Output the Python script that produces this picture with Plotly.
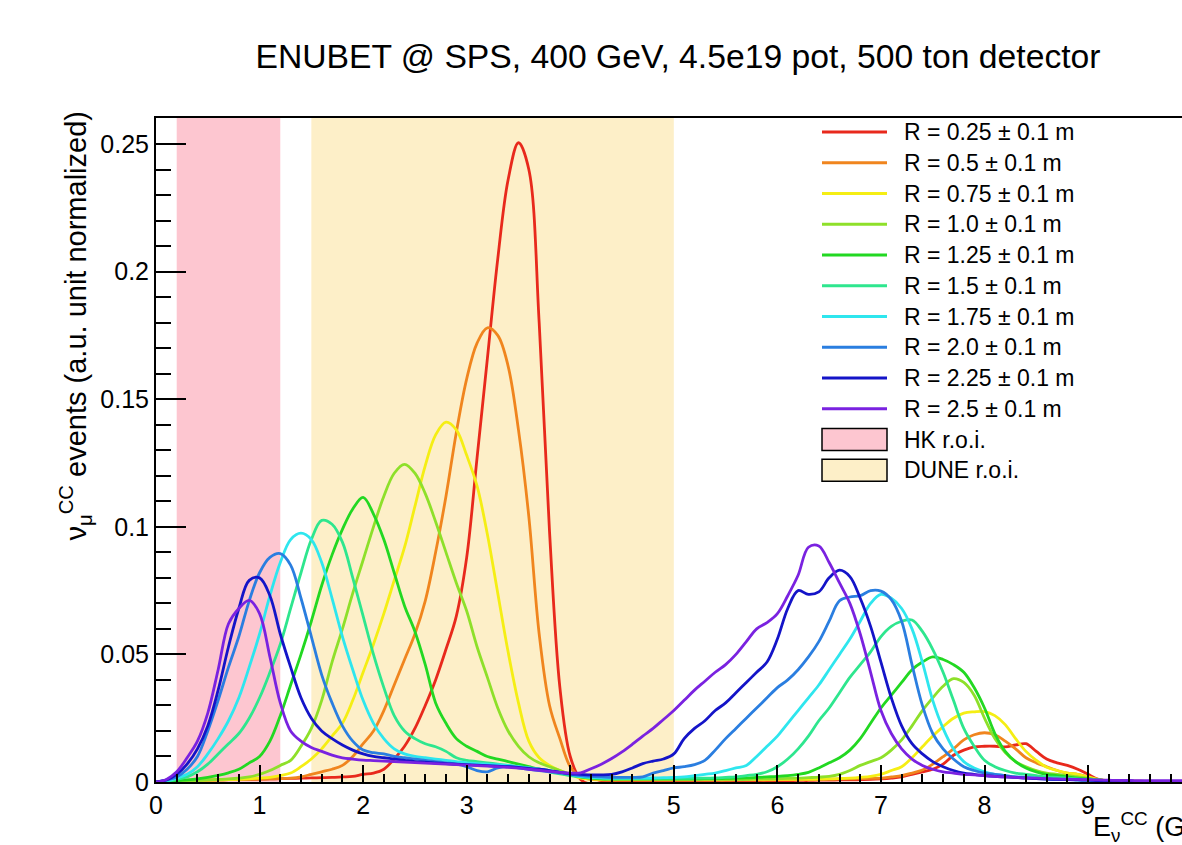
import plotly.graph_objects as go

# ---------------- data ----------------
energy_gev = [
    0.0, 0.1, 0.2, 0.3, 0.4, 0.5, 0.6, 0.7, 0.8, 0.9,
    1.0, 1.1, 1.2, 1.3, 1.4, 1.5, 1.6, 1.7, 1.8, 1.9,
    2.0, 2.1, 2.2, 2.3, 2.4, 2.5, 2.6, 2.7, 2.8, 2.9,
    3.0, 3.1, 3.2, 3.3, 3.4, 3.5, 3.6, 3.7, 3.8, 3.9,
    4.0, 4.1, 4.2, 4.3, 4.4, 4.5, 4.6, 4.7, 4.8, 4.9,
    5.0, 5.1, 5.2, 5.3, 5.4, 5.5, 5.6, 5.7, 5.8, 5.9,
    6.0, 6.1, 6.2, 6.3, 6.4, 6.5, 6.6, 6.7, 6.8, 6.9,
    7.0, 7.1, 7.2, 7.3, 7.4, 7.5, 7.6, 7.7, 7.8, 7.9,
    8.0, 8.1, 8.2, 8.3, 8.4, 8.5, 8.6, 8.7, 8.8, 8.9,
    9.0, 9.1, 9.2, 9.3, 9.4, 9.5, 9.6, 9.7, 9.8, 9.9,
    10.0,
]

r_025 = [
    0, 0.0003, 0.0004, 0.0005, 0.0006, 0.0007, 0.0008, 0.0009, 0.001, 0.001,
    0.0011, 0.0012, 0.0013, 0.0014, 0.0015, 0.0016, 0.0017, 0.0018, 0.002, 0.0022,
    0.003, 0.0035, 0.005, 0.009, 0.014, 0.021, 0.03, 0.04, 0.052, 0.065,
    0.088, 0.127, 0.166, 0.205, 0.236, 0.2505, 0.24, 0.18, 0.098, 0.037,
    0.01, 0.001, -0.0008, -0.0002, 0.0002, 0.0003, 0.0003, 0.0003, 0.0003, 0.0003,
    0.0003, 0.0003, 0.0003, 0.0003, 0.0003, 0.0003, 0.0003, 0.0004, 0.0004, 0.0005,
    0.0005, 0.0005, 0.0006, 0.0006, 0.0007, 0.0007, 0.0008, 0.0008, 0.0009, 0.001,
    0.0012, 0.0015, 0.002, 0.003, 0.004, 0.005, 0.007, 0.0105, 0.0125, 0.0138,
    0.014, 0.014, 0.0138, 0.0145, 0.015, 0.012, 0.009, 0.0075, 0.0065, 0.005,
    0.003, 0.001, 0.0004, 0.0003, 0.0003, 0.0003, 0.0002, 0.0002, 0.0002, 0.0002,
    0.0002,
]

r_050 = [
    0, 0.0003, 0.0004, 0.0005, 0.0006, 0.0007, 0.0008, 0.0009, 0.001, 0.001,
    0.0011, 0.0012, 0.0013, 0.0015, 0.002, 0.003, 0.004, 0.005, 0.0065, 0.01,
    0.015, 0.02, 0.028, 0.038, 0.048, 0.058, 0.071, 0.09, 0.112, 0.137,
    0.158, 0.172, 0.178, 0.175, 0.163, 0.138, 0.104, 0.058, 0.03, 0.017,
    0.006, 0.002, 0.001, 0.0008, 0.0007, 0.0007, 0.0007, 0.0007, 0.0007, 0.0007,
    0.0007, 0.0007, 0.0007, 0.0007, 0.0007, 0.0007, 0.0008, 0.0008, 0.0008, 0.0008,
    0.0009, 0.0009, 0.001, 0.001, 0.0011, 0.0011, 0.0012, 0.0012, 0.0013, 0.0014,
    0.0015, 0.002, 0.0025, 0.0035, 0.0047, 0.007, 0.0099, 0.013, 0.0165, 0.0185,
    0.0193, 0.0185, 0.016, 0.013, 0.0095, 0.0075, 0.006, 0.0045, 0.0035, 0.003,
    0.002, 0.0008, 0.0004, 0.0003, 0.0003, 0.0002, 0.0002, 0.0002, 0.0002, 0.0002,
    0.0002,
]

r_075 = [
    0, 0.0003, 0.0004, 0.0005, 0.0006, 0.0007, 0.0008, 0.0009, 0.001, 0.0012,
    0.0015, 0.0018, 0.0025, 0.0035, 0.006, 0.009, 0.013, 0.018, 0.023, 0.032,
    0.043, 0.054, 0.066, 0.079, 0.092, 0.108, 0.124, 0.136, 0.141, 0.138,
    0.128, 0.116, 0.097, 0.074, 0.051, 0.031, 0.016, 0.0095, 0.0065, 0.0045,
    0.003, 0.0015, 0.0012, 0.001, 0.001, 0.001, 0.001, 0.001, 0.001, 0.001,
    0.001, 0.001, 0.001, 0.001, 0.001, 0.001, 0.001, 0.001, 0.001, 0.001,
    0.001, 0.001, 0.001, 0.001, 0.0011, 0.0012, 0.0013, 0.0015, 0.0018, 0.0022,
    0.003, 0.0045, 0.006, 0.0095, 0.0138, 0.018, 0.0217, 0.025, 0.027, 0.0275,
    0.0276, 0.026, 0.0225, 0.017, 0.012, 0.0085, 0.0058, 0.0045, 0.0035, 0.003,
    0.002, 0.001, 0.0005, 0.0003, 0.0003, 0.0002, 0.0002, 0.0002, 0.0002, 0.0002,
    0.0002,
]

r_100 = [
    0, 0.0003, 0.0004, 0.0005, 0.0006, 0.0008, 0.001, 0.0012, 0.0015, 0.002,
    0.003, 0.0045, 0.0065, 0.0085, 0.014, 0.021, 0.032, 0.047, 0.060, 0.074,
    0.087, 0.100, 0.112, 0.121, 0.1245, 0.121, 0.113, 0.102, 0.090, 0.078,
    0.067, 0.053, 0.041, 0.029, 0.020, 0.014, 0.0099, 0.0075, 0.006, 0.0045,
    0.003, 0.002, 0.0015, 0.0012, 0.001, 0.001, 0.001, 0.001, 0.001, 0.001,
    0.001, 0.001, 0.001, 0.001, 0.001, 0.001, 0.001, 0.001, 0.0012, 0.0012,
    0.0013, 0.0014, 0.0015, 0.0017, 0.0019, 0.0022, 0.003, 0.0045, 0.0065, 0.008,
    0.0095, 0.0125, 0.0165, 0.022, 0.028, 0.033, 0.0375, 0.0405, 0.039, 0.034,
    0.025, 0.017, 0.0115, 0.008, 0.006, 0.0045, 0.0035, 0.003, 0.0025, 0.002,
    0.0015, 0.0008, 0.0004, 0.0003, 0.0003, 0.0002, 0.0002, 0.0002, 0.0002, 0.0002,
    0.0002,
]

r_125 = [
    0, 0.0003, 0.0005, 0.0008, 0.0012, 0.0018, 0.0026, 0.0036, 0.005, 0.0075,
    0.010, 0.016, 0.026, 0.038, 0.050, 0.063, 0.077, 0.089, 0.099, 0.107,
    0.1115, 0.105, 0.095, 0.082, 0.069, 0.059, 0.046, 0.031, 0.023, 0.017,
    0.014, 0.012, 0.010, 0.009, 0.008, 0.007, 0.006, 0.005, 0.0045, 0.0035,
    0.0028, 0.002, 0.0015, 0.0012, 0.0012, 0.0012, 0.0012, 0.0012, 0.0012, 0.0012,
    0.0012, 0.0012, 0.0012, 0.0013, 0.0013, 0.0014, 0.0015, 0.0016, 0.0018, 0.002,
    0.0022, 0.0025, 0.003, 0.0038, 0.0055, 0.0075, 0.0095, 0.0125, 0.017, 0.023,
    0.029, 0.034, 0.039, 0.044, 0.047, 0.049, 0.048, 0.046, 0.043, 0.037,
    0.029, 0.019, 0.012, 0.008, 0.0055, 0.004, 0.003, 0.0025, 0.002, 0.0015,
    0.0012, 0.0008, 0.0005, 0.0003, 0.0003, 0.0002, 0.0002, 0.0002, 0.0002, 0.0002,
    0.0002,
]

r_150 = [
    0, 0.0003, 0.001, 0.002, 0.004, 0.007, 0.011, 0.015, 0.019, 0.025,
    0.033, 0.043, 0.054, 0.068, 0.082, 0.095, 0.1025, 0.101, 0.094, 0.080,
    0.065, 0.050, 0.037, 0.026, 0.020, 0.017, 0.015, 0.0138, 0.012, 0.0095,
    0.0085, 0.008, 0.0075, 0.007, 0.0065, 0.006, 0.0055, 0.005, 0.004, 0.0032,
    0.0025, 0.002, 0.0017, 0.0015, 0.0014, 0.0014, 0.0014, 0.0014, 0.0014, 0.0014,
    0.0014, 0.0014, 0.0015, 0.0015, 0.0016, 0.0018, 0.002, 0.0025, 0.003, 0.004,
    0.006, 0.009, 0.013, 0.018, 0.024, 0.029, 0.035, 0.041, 0.046, 0.051,
    0.057, 0.061, 0.063, 0.0635, 0.059, 0.052, 0.043, 0.032, 0.021, 0.014,
    0.0085, 0.006, 0.0045, 0.0035, 0.003, 0.0025, 0.002, 0.0018, 0.0015, 0.0012,
    0.001, 0.0008, 0.0005, 0.0003, 0.0003, 0.0002, 0.0002, 0.0002, 0.0002, 0.0002,
    0.0002,
]

r_175 = [
    0, 0.0005, 0.0015, 0.003, 0.006, 0.011, 0.017, 0.024, 0.033, 0.045,
    0.058, 0.073, 0.086, 0.095, 0.0975, 0.095, 0.086, 0.072, 0.057, 0.044,
    0.032, 0.023, 0.017, 0.013, 0.011, 0.010, 0.0095, 0.009, 0.0085, 0.008,
    0.0075, 0.0072, 0.007, 0.0068, 0.0065, 0.006, 0.0055, 0.005, 0.0045, 0.0038,
    0.003, 0.0022, 0.0018, 0.0016, 0.0015, 0.0015, 0.0015, 0.0015, 0.0016, 0.0017,
    0.0018, 0.002, 0.0025, 0.003, 0.0035, 0.0045, 0.0055, 0.0065, 0.010, 0.014,
    0.018, 0.023, 0.028, 0.033, 0.038, 0.044, 0.050, 0.056, 0.063, 0.070,
    0.0735, 0.072, 0.068, 0.060, 0.047, 0.032, 0.021, 0.013, 0.008, 0.0055,
    0.004, 0.003, 0.0025, 0.002, 0.0018, 0.0015, 0.0012, 0.001, 0.001, 0.0008,
    0.0007, 0.0005, 0.0004, 0.0003, 0.0003, 0.0002, 0.0002, 0.0002, 0.0002, 0.0002,
    0.0002,
]

r_200 = [
    0, 0.0007, 0.002, 0.005, 0.010, 0.020, 0.032, 0.045, 0.057, 0.071,
    0.082, 0.088, 0.0895, 0.085, 0.072, 0.057, 0.042, 0.031, 0.022, 0.016,
    0.0125, 0.0115, 0.011, 0.010, 0.0095, 0.009, 0.0085, 0.008, 0.0075, 0.007,
    0.006, 0.0045, 0.004, 0.0055, 0.006, 0.0055, 0.005, 0.0045, 0.004, 0.0035,
    0.003, 0.0025, 0.0022, 0.002, 0.0018, 0.0018, 0.0018, 0.002, 0.0035, 0.0045,
    0.0055, 0.006, 0.0068, 0.0085, 0.0125, 0.017, 0.021, 0.025, 0.029, 0.033,
    0.037, 0.040, 0.044, 0.049, 0.055, 0.063, 0.071, 0.0725, 0.073, 0.075,
    0.0748, 0.0715, 0.063, 0.046, 0.030, 0.019, 0.013, 0.009, 0.006, 0.0045,
    0.0035, 0.003, 0.0025, 0.002, 0.0018, 0.0015, 0.0012, 0.001, 0.001, 0.0008,
    0.0007, 0.0005, 0.0004, 0.0003, 0.0003, 0.0002, 0.0002, 0.0002, 0.0002, 0.0002,
    0.0002,
]

r_225 = [
    0, 0.0008, 0.003, 0.007, 0.013, 0.022, 0.036, 0.053, 0.068, 0.079,
    0.080, 0.073, 0.058, 0.045, 0.033, 0.025, 0.020, 0.017, 0.0145, 0.0125,
    0.011, 0.010, 0.0095, 0.009, 0.0085, 0.008, 0.0078, 0.0075, 0.0072, 0.007,
    0.0068, 0.0066, 0.0064, 0.0062, 0.006, 0.0057, 0.0053, 0.005, 0.0045, 0.0038,
    0.0032, 0.003, 0.0028, 0.0028, 0.003, 0.004, 0.0055, 0.0072, 0.0082, 0.009,
    0.011, 0.017, 0.021, 0.024, 0.028, 0.031, 0.035, 0.039, 0.043, 0.047,
    0.056, 0.068, 0.075, 0.0735, 0.0745, 0.080, 0.083, 0.0805, 0.072, 0.061,
    0.047, 0.033, 0.022, 0.015, 0.011, 0.008, 0.006, 0.0045, 0.0035, 0.003,
    0.0025, 0.0022, 0.002, 0.0018, 0.0015, 0.0013, 0.0011, 0.001, 0.0009, 0.0008,
    0.0007, 0.0005, 0.0004, 0.0003, 0.0003, 0.0002, 0.0002, 0.0002, 0.0002, 0.0002,
    0.0002,
]

r_250 = [
    0, 0.001, 0.004, 0.0095, 0.016, 0.027, 0.044, 0.062, 0.068, 0.0712,
    0.066, 0.049, 0.031, 0.020, 0.016, 0.0135, 0.012, 0.0105, 0.0095, 0.009,
    0.0086, 0.0084, 0.0082, 0.008, 0.0078, 0.0076, 0.0074, 0.0072, 0.007, 0.0068,
    0.0066, 0.0064, 0.0062, 0.006, 0.0057, 0.0054, 0.005, 0.0046, 0.0042, 0.0038,
    0.0035, 0.0036, 0.0052, 0.007, 0.0092, 0.0118, 0.0148, 0.018, 0.021, 0.0245,
    0.028, 0.032, 0.036, 0.0395, 0.043, 0.046, 0.050, 0.055, 0.060, 0.0625,
    0.066, 0.073, 0.081, 0.092, 0.0925, 0.086, 0.078, 0.070, 0.058, 0.043,
    0.028, 0.019, 0.013, 0.009, 0.0065, 0.005, 0.004, 0.0035, 0.003, 0.0028,
    0.0025, 0.0022, 0.002, 0.0018, 0.0016, 0.0015, 0.0013, 0.0012, 0.0011, 0.001,
    0.0009, 0.0008, 0.0007, 0.0006, 0.0006, 0.0005, 0.0005, 0.0005, 0.0005, 0.0005,
    0.0005,
]

radius_labels = [
    "R = 0.25 ± 0.1 m", "R = 0.5 ± 0.1 m", "R = 0.75 ± 0.1 m", "R = 1.0 ± 0.1 m",
    "R = 1.25 ± 0.1 m", "R = 1.5 ± 0.1 m", "R = 1.75 ± 0.1 m", "R = 2.0 ± 0.1 m",
    "R = 2.25 ± 0.1 m", "R = 2.5 ± 0.1 m",
]
radius_series = [r_025, r_050, r_075, r_100, r_125, r_150, r_175, r_200, r_225, r_250]

roi_labels = ["HK r.o.i.", "DUNE r.o.i."]
hk_roi_gev = [0.2, 1.2]
dune_roi_gev = [1.5, 5.0]
roi_band_top = 0.2602

# ---------------- styling ----------------
line_colors = [
    "#e8291c", "#f0851e", "#f5ee14", "#8ee02a", "#22d822",
    "#2ee68e", "#2ee6ee", "#2a7ee0", "#1414c8", "#7a22e0",
]
roi_colors = ["#fdc6d0", "#fdefc8"]
FONT = "Liberation Sans, Arial, Helvetica, sans-serif"

W, H = 1182, 845
M_L, M_R, M_T, M_B = 156, 0, 118, 63
PLOT_W, PLOT_H = W - M_L - M_R, H - M_T - M_B


def paper_x(px):
    return (px - M_L) / PLOT_W


def paper_y(py):
    return (H - M_B - py) / PLOT_H


fig = go.Figure()

# regions of interest (bands below the curves)
for roi, col in zip([hk_roi_gev, dune_roi_gev], roi_colors):
    fig.add_trace(go.Scatter(
        x=[roi[0], roi[1], roi[1], roi[0], roi[0]],
        y=[0, 0, roi_band_top, roi_band_top, 0],
        mode="lines", fill="toself", fillcolor=col,
        line=dict(width=0), hoverinfo="skip", showlegend=False,
    ))

for lab, ys, col in zip(radius_labels, radius_series, line_colors):
    fig.add_trace(go.Scatter(
        x=energy_gev, y=ys, mode="lines", name=lab, showlegend=False,
        line=dict(color=col, width=2.8, shape="spline", smoothing=1.0),
    ))

# ---------------- legend (ROOT TLegend look) ----------------
LEG_X0, LEG_X1, LEG_TEXT_X = 822, 887, 902
LEG_ROW0, LEG_STEP, BOX_HALF = 132, 30.75, 11
shapes, annotations = [], []
entries = [(l, c, "line") for l, c in zip(radius_labels, line_colors)] + \
          [(l, c, "box") for l, c in zip(roi_labels, roi_colors)]
for k, (lab, col, kind) in enumerate(entries):
    yc = LEG_ROW0 + k * LEG_STEP
    if kind == "line":
        shapes.append(dict(type="line", xref="paper", yref="paper",
                           x0=paper_x(LEG_X0), x1=paper_x(LEG_X1),
                           y0=paper_y(yc), y1=paper_y(yc),
                           line=dict(color=col, width=3)))
    else:
        shapes.append(dict(type="rect", xref="paper", yref="paper",
                           x0=paper_x(LEG_X0), x1=paper_x(LEG_X1),
                           y0=paper_y(yc + BOX_HALF), y1=paper_y(yc - BOX_HALF),
                           fillcolor=col, line=dict(color="black", width=1.5)))
    annotations.append(dict(text=lab, xref="paper", yref="paper",
                            x=paper_x(LEG_TEXT_X), y=paper_y(yc),
                            xanchor="left", yanchor="middle", showarrow=False,
                            font=dict(family=FONT, size=23, color="black")))

annotations.append(dict(
    text="ν<sub>μ</sub><sup>CC</sup> events (a.u. unit normalized)",
    textangle=-90, xref="paper", yref="paper",
    x=paper_x(75), y=paper_y(110), xanchor="center", yanchor="top",
    showarrow=False, font=dict(family=FONT, size=29, color="black"),
))
annotations.append(dict(
    text="E<sub>ν</sub><sup>CC</sup> (GeV)",
    xref="paper", yref="paper", x=paper_x(1091), y=paper_y(827),
    xanchor="left", yanchor="middle", showarrow=False,
    font=dict(family=FONT, size=27, color="black"),
))

fig.update_layout(
    width=W, height=H,
    margin=dict(l=M_L, r=M_R, t=M_T, b=M_B, pad=0),
    paper_bgcolor="white", plot_bgcolor="white",
    font=dict(family=FONT, color="black", size=24),
    title=dict(
        text="ENUBET @ SPS, 400 GeV, 4.5e19 pot, 500 ton detector",
        font=dict(family=FONT, size=33.7, color="black"),
        x=0.5736, xref="container", xanchor="center",
        y=0.933, yref="container", yanchor="middle",
    ),
    showlegend=False,
    xaxis=dict(
        range=[0, 9.907], showgrid=False, zeroline=False,
        showline=True, linecolor="black", linewidth=2, mirror=True,
        ticks="inside", ticklen=17, tickwidth=1.5, tickcolor="black",
        dtick=1, tick0=0, tickfont=dict(size=25),
        minor=dict(ticks="inside", ticklen=8, tickwidth=1.5, tickcolor="black", dtick=0.2),
        ticklabelstandoff=0,
    ),
    yaxis=dict(
        range=[0, 0.2602], showgrid=False, zeroline=False,
        showline=True, linecolor="black", linewidth=2, mirror=False,
        ticks="inside", ticklen=30, tickwidth=1.5, tickcolor="black",
        dtick=0.05, tick0=0, tickfont=dict(size=25),
        minor=dict(ticks="inside", ticklen=15, tickwidth=1.5, tickcolor="black", dtick=0.01),
        ticklabelstandoff=0,
    ),
    shapes=shapes,
    annotations=annotations,
)

fig.write_html("out.html")
